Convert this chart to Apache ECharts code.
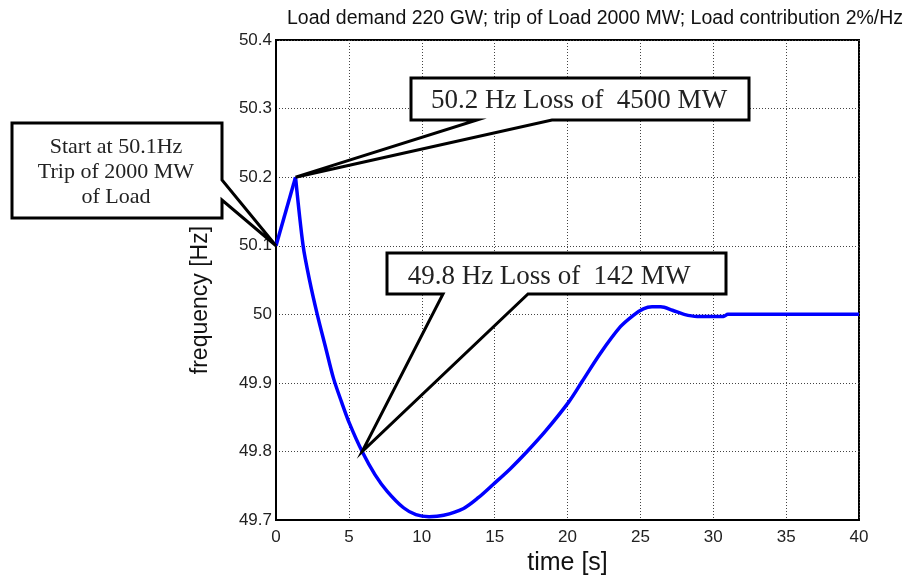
<!DOCTYPE html>
<html>
<head>
<meta charset="utf-8">
<script src="https://cdn.jsdelivr.net/npm/echarts@6/dist/echarts.min.js"></script>
<style>
  html, body { margin: 0; padding: 0; background: #fff; }
  #chart { width: 912px; height: 581px; }
</style>
</head>
<body>
<div id="chart"></div>
<script>
// frequency response after load trip
const timeS = [0, 1.34, 1.86, 2.3, 2.83, 3.4, 3.94, 4.5, 5.04, 5.91, 6.8, 7.63, 8.75, 9.6, 10.5,
  11.5, 12.87, 13.9, 14.9, 16.08, 17.23, 18.5, 20.08, 21.0, 22.25, 23.63, 24.54, 25.2, 25.8,
  26.4, 27.2, 28.0, 28.9, 30.7, 31.0, 40];
const freqHz = [50.1, 50.2, 50.1, 50.05, 50.0, 49.952, 49.907, 49.872, 49.841, 49.8, 49.766, 49.742, 49.718, 49.708, 49.705,
  49.707, 49.717, 49.733, 49.752, 49.775, 49.8, 49.83, 49.872, 49.902, 49.943, 49.982, 49.999, 50.008, 50.011,
  50.011, 50.006, 50.0, 49.997, 49.997, 50.0, 50.0];
const peakIndex = 1; // sharp corner at the peak, the fall after it is smooth

const titleText = 'Load demand 220 GW; trip of Load 2000 MW; Load contribution 2%/Hz';
// callouts: text and the data point each one points at
const calloutStart = { text: 'Start at 50.1Hz\nTrip of 2000 MW\nof Load', at: [0, 50.1] };
const calloutHigh = { text: '50.2 Hz Loss of  4500 MW', at: [1.34, 50.2] };
const calloutLow = { text: '49.8 Hz Loss of  142 MW', at: [5.91, 49.8] };

const points = timeS.map((t, i) => [t, freqHz[i]]);

const chart = echarts.init(document.getElementById('chart'));

const lineStyle = { color: '#0000ff', width: 3.5 };

const option = {
  animation: false,
  backgroundColor: '#fff',
  title: {
    text: titleText,
    left: 282,
    top: 4,
    textStyle: { fontFamily: 'Liberation Sans', fontSize: 19.5, fontWeight: 'normal', color: '#111' }
  },
  grid: {
    left: 276, right: 53, top: 40, bottom: 56,
    show: true, borderColor: '#000', borderWidth: 2
  },
  xAxis: {
    type: 'value', min: 0, max: 40, interval: 5,
    name: 'time [s]', nameLocation: 'middle', nameGap: 30,
    nameTextStyle: { fontFamily: 'Liberation Sans', fontSize: 25, color: '#111' },
    axisLine: { show: true, lineStyle: { color: '#000', width: 2 } },
    axisTick: { show: false },
    axisLabel: { fontFamily: 'Liberation Sans', fontSize: 17, color: '#222', margin: 9 },
    splitLine: { show: true, lineStyle: { color: '#444', width: 1, type: [1, 2] } }
  },
  yAxis: {
    type: 'value', min: 49.7, max: 50.4, interval: 0.1,
    name: 'frequency [Hz]', nameLocation: 'middle', nameGap: 64,
    nameTextStyle: { fontFamily: 'Liberation Sans', fontSize: 23, color: '#111', padding: [0, 40, 0, 0] },
    axisLine: { show: true, lineStyle: { color: '#000', width: 2 } },
    axisTick: { show: false },
    axisLabel: {
      fontFamily: 'Liberation Sans', fontSize: 17, color: '#222', margin: 4,
      formatter: v => String(Math.round(v * 10) / 10)
    },
    splitLine: { show: true, lineStyle: { color: '#444', width: 1, type: [1, 2] } }
  },
  series: [
    {
      type: 'line',
      data: points.slice(0, peakIndex + 1),
      showSymbol: false,
      lineStyle: lineStyle,
      z: 3
    },
    {
      type: 'line',
      data: points.slice(peakIndex),
      showSymbol: false,
      smooth: 0.3,
      lineStyle: lineStyle,
      z: 3
    }
  ]
};
chart.setOption(option);

// callout boxes, tails end on the data points
const boxStyle = { fill: '#fff', stroke: '#000', lineWidth: 3, lineJoin: 'miter' };
const serif = 'Liberation Serif';

const tipA = chart.convertToPixel({ gridIndex: 0 }, calloutStart.at);
const tipB = chart.convertToPixel({ gridIndex: 0 }, calloutHigh.at);
const tipC = chart.convertToPixel({ gridIndex: 0 }, calloutLow.at);

chart.setOption({
  graphic: [
    {
      type: 'polygon', z: 20,
      shape: { points: [[12, 123], [222, 123], [222, 180], tipA, [222, 200], [222, 218], [12, 218]] },
      style: boxStyle
    },
    {
      type: 'text', z: 21, x: 116, y: 172,
      style: {
        text: calloutStart.text, font: '22px ' + serif, fill: '#222',
        align: 'center', verticalAlign: 'middle', lineHeight: 25
      }
    },
    {
      type: 'polygon', z: 20,
      shape: { points: [[411, 78], [749, 78], [749, 120], [552, 120], tipB, [477, 120], [411, 120]] },
      style: boxStyle
    },
    {
      type: 'text', z: 21, x: 579, y: 101,
      style: { text: calloutHigh.text, font: '27px ' + serif, fill: '#222', align: 'center', verticalAlign: 'middle' }
    },
    {
      type: 'polygon', z: 20,
      shape: { points: [[387, 253], [726, 253], [726, 294], [528, 294], tipC, [443, 294], [387, 294]] },
      style: boxStyle
    },
    {
      type: 'text', z: 21, x: 549, y: 277,
      style: { text: calloutLow.text, font: '27px ' + serif, fill: '#222', align: 'center', verticalAlign: 'middle' }
    }
  ]
});
</script>
</body>
</html>
